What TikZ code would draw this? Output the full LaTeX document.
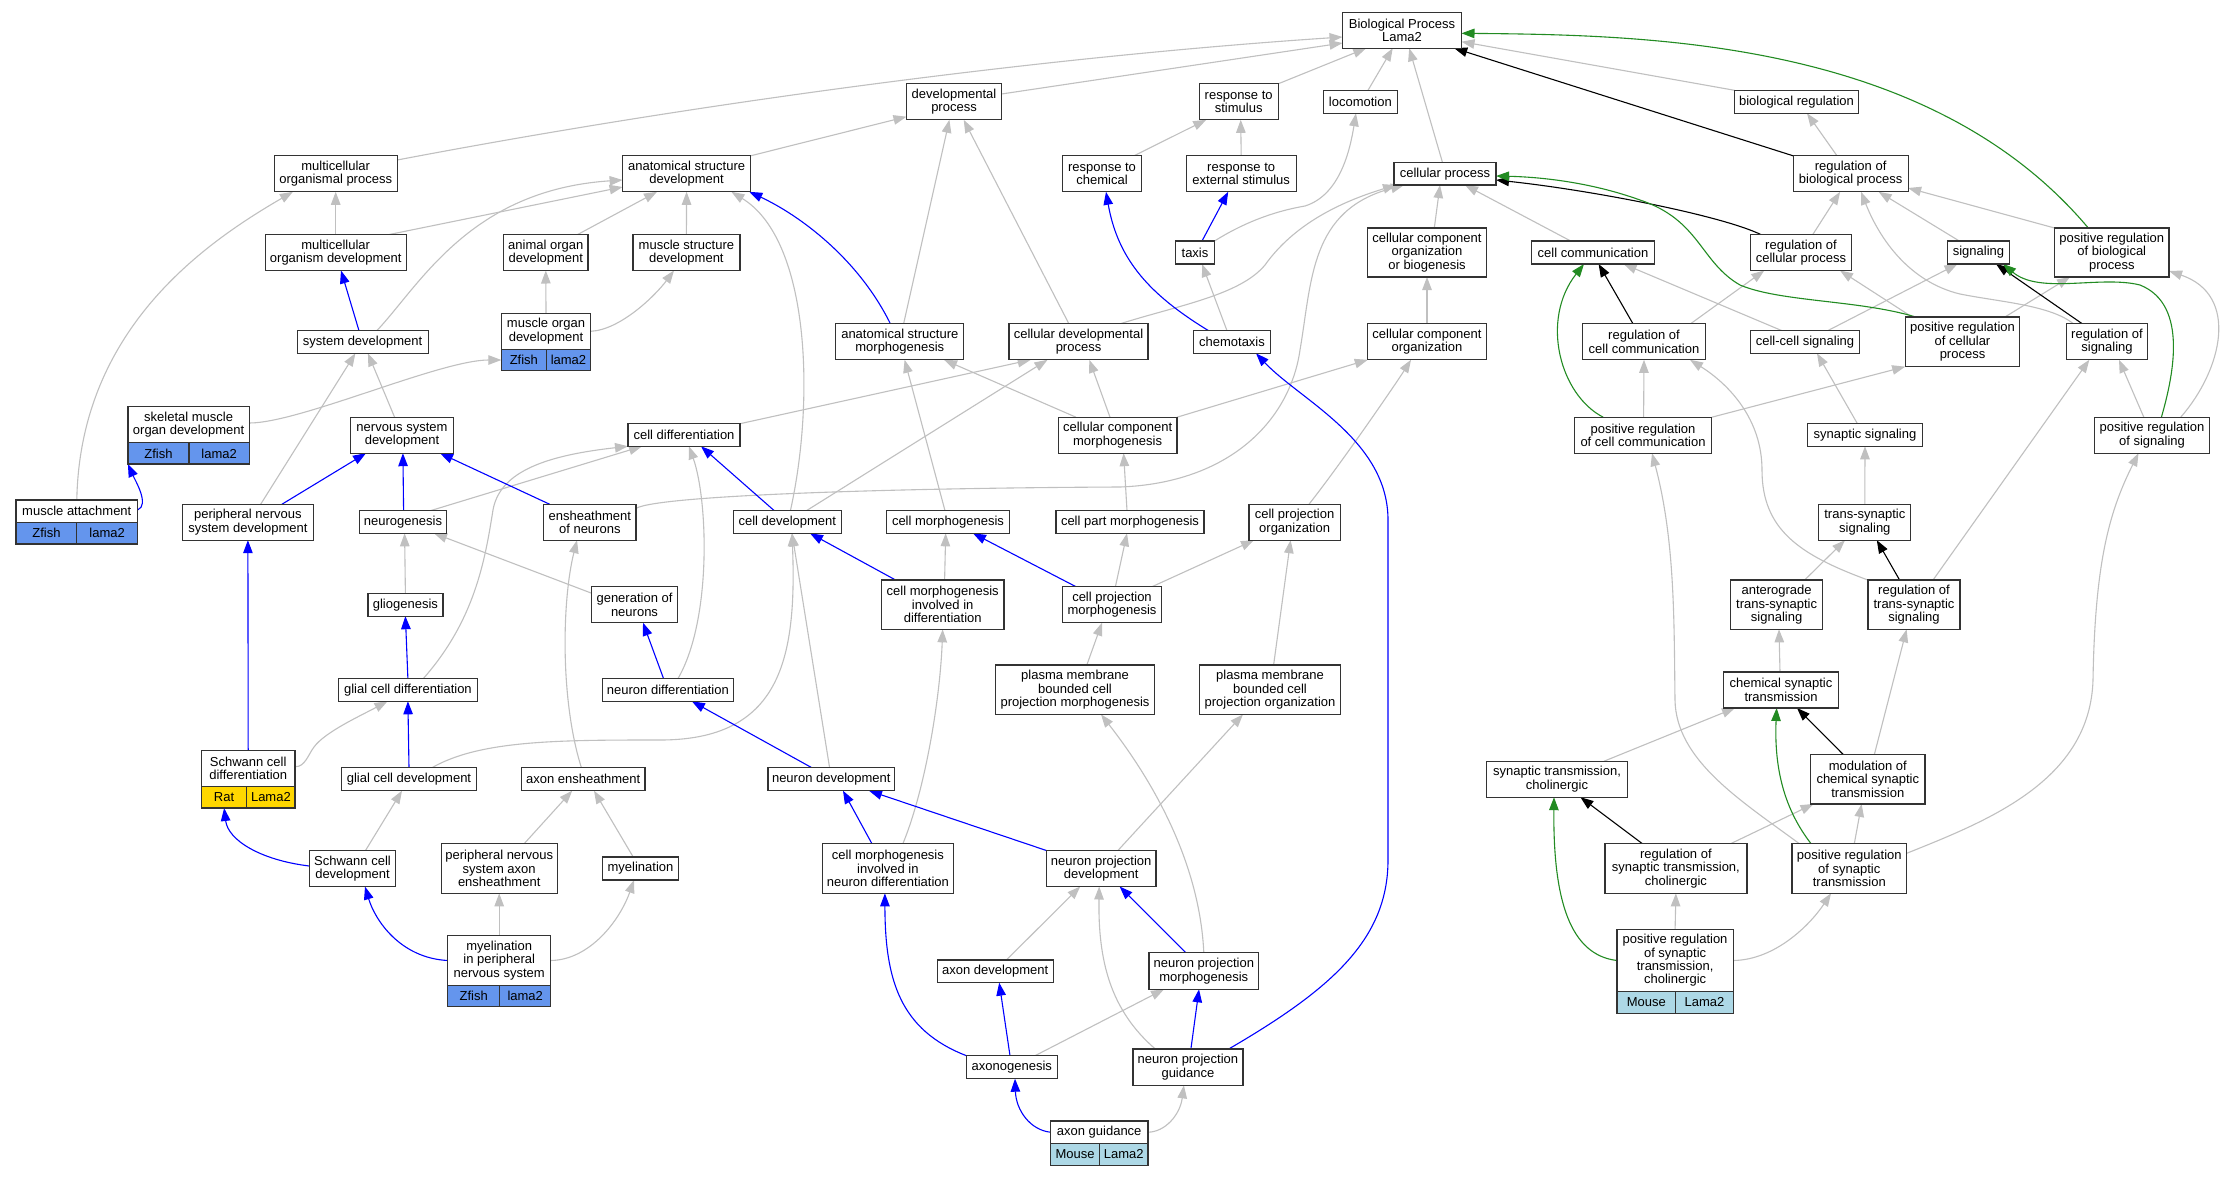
\documentclass[tikz,border=0pt]{standalone}
\usepackage{fontspec}
\setmainfont{Liberation Sans}
\usetikzlibrary{arrows.meta}
\pgfdeclarelayer{bg}
\pgfsetlayers{bg,main}
\definecolor{eg}{RGB}{192,192,192}
\definecolor{eb}{RGB}{0,0,255}
\definecolor{egr}{RGB}{34,139,34}
\definecolor{bd}{RGB}{51,51,51}
\definecolor{zf}{RGB}{100,149,237}
\definecolor{rt}{RGB}{255,215,0}
\definecolor{ms}{RGB}{173,216,230}
\newcommand{\nodefont}{\fontsize{13}{13.4}\selectfont}
\tikzset{
  wh/.style 2 args={minimum width=#1pt, minimum height=#2pt},
  box/.style={draw=bd, fill=white, line width=1.2pt, inner sep=0pt, outer sep=0pt, align=center, font=\nodefont},
  cell/.style={draw=bd, line width=1.2pt, inner sep=0pt, outer sep=0pt, font=\nodefont},
  ar/.style={line width=1.1pt, -{Triangle[length=13pt,width=9.5pt]}},
  isa/.style={ar, eg},
  po/.style={ar, eb},
  rg/.style={ar, black},
  pr/.style={ar, egr}
}
\begin{document}
\begin{tikzpicture}[x=1pt,y=-1pt]
\useasboundingbox (0,0) rectangle (2231,1176);
% ---------- nodes ----------
\node[box,wh={119}{36}] (bp) at (1402,30.2) {Biological Process\\Lama2};
\node[box,wh={95}{36}] (devp) at (954,101.8) {developmental\\process};
\node[box,wh={79}{36}] (rstim) at (1238.7,101.8) {response to\\stimulus};
\node[box,wh={73.5}{23}] (loco) at (1360.4,101.8) {locomotion};
\node[box,wh={124}{23}] (breg) at (1796.5,101.8) {biological regulation};
\node[box,wh={123}{36}] (mop) at (335.7,173.8) {multicellular\\organismal process};
\node[box,wh={128}{36}] (asd) at (686.6,173.8) {anatomical structure\\development};
\node[box,wh={79}{36}] (rchem) at (1102,173.8) {response to\\chemical};
\node[box,wh={110}{36}] (rext) at (1241.2,173.8) {response to\\external stimulus};
\node[box,wh={102}{22.5}] (cproc) at (1445,173.8) {cellular process};
\node[box,wh={115}{36}] (rbp) at (1850.6,173.8) {regulation of\\biological process};
\node[box,wh={141}{36}] (mod) at (335.7,252.5) {multicellular\\organism development};
\node[box,wh={84.5}{36}] (aod) at (545.8,252.5) {animal organ\\development};
\node[box,wh={107}{36}] (msd) at (686.4,252.5) {muscle structure\\development};
\node[box,wh={39}{23}] (taxis) at (1195,252.5) {taxis};
\node[box,wh={118.5}{49}] (ccob) at (1427,252.5) {cellular component\\organization\\or biogenesis};
\node[box,wh={123}{23}] (ccom) at (1593,252.5) {cell communication};
\node[box,wh={101.5}{36}] (rcp) at (1801,252.5) {regulation of\\cellular process};
\node[box,wh={61.5}{23}] (sig) at (1978.5,252.5) {signaling};
\node[box,wh={114.5}{49}] (prbp) at (2111.8,252.5) {positive regulation\\of biological\\process};
\node[box,wh={131}{22.6}] (sysd) at (362.6,342) {system development};
\node[box,wh={89.3}{36}] (muod) at (546,331.3) {muscle organ\\development};
\node[cell,fill=zf,wh={45}{21.4},anchor=north west] (muodZ) at (muod.south west) {Zfish};
\node[cell,fill=zf,wh={44.3}{21.4},anchor=north east] (muodL) at (muod.south east) {lama2};
\node[box,wh={128}{36}] (asm) at (899.8,341.8) {anatomical structure\\morphogenesis};
\node[box,wh={139}{36}] (cdp) at (1078.5,341.8) {cellular developmental\\process};
\node[box,wh={77.5}{22.6}] (chemo) at (1232,342) {chemotaxis};
\node[box,wh={118.5}{36}] (cco) at (1427,341.8) {cellular component\\organization};
\node[box,wh={123}{36}] (rcc) at (1644,341.8) {regulation of\\cell communication};
\node[box,wh={109.6}{22.6}] (ccs) at (1805,342) {cell-cell signaling};
\node[box,wh={114.6}{49.7}] (prcp) at (1962.5,341.8) {positive regulation\\of cellular\\process};
\node[box,wh={81.5}{36}] (ros) at (2107,341.8) {regulation of\\signaling};
\node[box,wh={121.4}{36}] (smod) at (188.6,424.7) {skeletal muscle\\organ development};
\node[cell,fill=zf,wh={61}{21.3},anchor=north west] (smodZ) at (smod.south west) {Zfish};
\node[cell,fill=zf,wh={60.4}{21.3},anchor=north east] (smodL) at (smod.south east) {lama2};
\node[box,wh={102.5}{36}] (nsd) at (402,435.2) {nervous system\\development};
\node[box,wh={112}{22.6}] (cdiff) at (684,435) {cell differentiation};
\node[box,wh={118.8}{36}] (ccm) at (1117.6,435.2) {cellular component\\morphogenesis};
\node[box,wh={137.7}{36}] (prcc) at (1643,435.2) {positive regulation\\of cell communication};
\node[box,wh={115}{22.6}] (synsig) at (1865,435) {synaptic signaling};
\node[box,wh={114.6}{36}] (pros) at (2152,435.2) {positive regulation\\of signaling};
\node[box,wh={121.5}{22.7}] (matt) at (76.8,511.3) {muscle attachment};
\node[cell,fill=zf,wh={60.8}{21.3},anchor=north west] (mattZ) at (matt.south west) {Zfish};
\node[cell,fill=zf,wh={60.7}{21.3},anchor=north east] (mattL) at (matt.south east) {lama2};
\node[box,wh={130.7}{36}] (pnsd) at (247.9,522.2) {peripheral nervous\\system development};
\node[box,wh={86.8}{22.6}] (neurog) at (403,522) {neurogenesis};
\node[box,wh={92.5}{36}] (eon) at (589.8,522.2) {ensheathment\\of neurons};
\node[box,wh={108}{22.6}] (cdev) at (787.3,522) {cell development};
\node[box,wh={123}{22.6}] (cmorph) at (948,522) {cell morphogenesis};
\node[box,wh={148}{22.6}] (cpm) at (1130,522) {cell part morphogenesis};
\node[box,wh={91.4}{36}] (cpo) at (1294.6,522.2) {cell projection\\organization};
\node[box,wh={92}{36}] (tss) at (1864.8,522.2) {trans-synaptic\\signaling};
\node[box,wh={75}{23}] (glio) at (405.4,604.7) {gliogenesis};
\node[box,wh={85.3}{36}] (gon) at (634.5,604.7) {generation of\\neurons};
\node[box,wh={122.5}{49.3}] (cmid) at (942.7,604.7) {cell morphogenesis\\involved in\\differentiation};
\node[box,wh={99}{36}] (cprm) at (1112,604.7) {cell projection\\morphogenesis};
\node[box,wh={92}{49.3}] (ats) at (1776.6,604.7) {anterograde\\trans-synaptic\\signaling};
\node[box,wh={92}{49.3}] (rts) at (1914,604.7) {regulation of\\trans-synaptic\\signaling};
\node[box,wh={138.6}{22.6}] (gcd) at (407.9,690) {glial cell differentiation};
\node[box,wh={130.7}{22.6}] (ndiff) at (667.9,690) {neuron differentiation};
\node[box,wh={159}{49.3}] (pmcpm) at (1075,689.7) {plasma membrane\\bounded cell\\projection morphogenesis};
\node[box,wh={140.8}{49.3}] (pmcpo) at (1270,689.7) {plasma membrane\\bounded cell\\projection organization};
\node[box,wh={115}{36}] (cst) at (1781,690) {chemical synaptic\\transmission};
\node[box,wh={93.6}{36.4}] (scd) at (248.2,768.5) {Schwann cell\\differentiation};
\node[cell,fill=rt,wh={45.4}{21.3},anchor=north west] (scdR) at (scd.south west) {Rat};
\node[cell,fill=rt,wh={48.2}{21.3},anchor=north east] (scdL) at (scd.south east) {Lama2};
\node[box,wh={135}{23}] (gcdev) at (409,779.2) {glial cell development};
\node[box,wh={123.6}{23}] (axe) at (583.2,779.2) {axon ensheathment};
\node[box,wh={126.8}{23}] (ndev) at (831.3,779.2) {neuron development};
\node[box,wh={141.4}{36}] (stc) at (1557,779.2) {synaptic transmission,\\cholinergic};
\node[box,wh={114.5}{49.3}] (mcst) at (1867.8,779.3) {modulation of\\chemical synaptic\\transmission};
\node[box,wh={86.5}{36}] (scdv) at (352.5,868.5) {Schwann cell\\development};
\node[box,wh={116}{49.7}] (pnsae) at (499.2,868.5) {peripheral nervous\\system axon\\ensheathment};
\node[box,wh={76}{23}] (myel) at (640.5,868.5) {myelination};
\node[box,wh={130.7}{49.7}] (cmind) at (887.9,868.5) {cell morphogenesis\\involved in\\neuron differentiation};
\node[box,wh={109.6}{36}] (npd) at (1101.2,868.5) {neuron projection\\development};
\node[box,wh={142}{49.7}] (rstc) at (1675.9,868.5) {regulation of\\synaptic transmission,\\cholinergic};
\node[box,wh={114.6}{49.7}] (prst) at (1849.3,868.5) {positive regulation\\of synaptic\\transmission};
\node[box,wh={103}{49.6}] (mpns) at (499.2,960.5) {myelination\\in peripheral\\nervous system};
\node[cell,fill=zf,wh={52.1}{21.4},anchor=north west] (mpnsZ) at (mpns.south west) {Zfish};
\node[cell,fill=zf,wh={50.9}{21.4},anchor=north east] (mpnsL) at (mpns.south east) {lama2};
\node[box,wh={116}{22.7}] (axd) at (995.2,971.3) {axon development};
\node[box,wh={109.7}{36.6}] (npm) at (1203.8,971) {neuron projection\\morphogenesis};
\node[box,wh={116.2}{62.4}] (prstc) at (1675.1,960.5) {positive regulation\\of synaptic\\transmission,\\cholinergic};
\node[cell,fill=ms,wh={58.7}{21.6},anchor=north west] (prstcM) at (prstc.south west) {Mouse};
\node[cell,fill=ms,wh={57.5}{21.6},anchor=north east] (prstcL) at (prstc.south east) {Lama2};
\node[box,wh={90.7}{23}] (axg) at (1011.8,1067.2) {axonogenesis};
\node[box,wh={110}{36.3}] (npg) at (1187.9,1067.2) {neuron projection\\guidance};
\node[box,wh={97.5}{22.3}] (ag) at (1099.2,1132.2) {axon guidance};
\node[cell,fill=ms,wh={49.2}{22},anchor=north west] (agM) at (ag.south west) {Mouse};
\node[cell,fill=ms,wh={48.3}{22},anchor=north east] (agL) at (ag.south east) {Lama2};
% ---------- edges ----------
\begin{pgfonlayer}{bg}
\fill[white] (0,0) rectangle (2231,1176);
% is_a (grey)
\draw[isa] ([yshift=13.8pt]mop.east) .. controls (697,103) and (1042,57) .. ([yshift=-6.8pt]bp.west);
\draw[isa] ([yshift=7.8pt]devp.east) -- ([yshift=-12.8pt]bp.west);
\draw[isa] (rstim.north east) -- ([xshift=-35.8pt]bp.south);
\draw[isa] ([xshift=7.6pt]loco.north) -- ([xshift=-9.3pt]bp.south);
\draw[isa] ([xshift=-2.5pt]cproc.north) -- ([xshift=7.2pt]bp.south);
\draw[isa] (breg.north west) -- ([yshift=-11.5pt]bp.east);
\draw[isa] (asd.north east) -- ([yshift=-14.9pt]devp.west);
\draw[isa] ([xshift=3.8pt]asm.north) -- ([xshift=-4.6pt]devp.south);
\draw[isa] ([xshift=-9.6pt]cdp.north) -- ([xshift=9.7pt]devp.south);
\draw[isa] (mod.north) -- (mop.south);
\draw[isa] (matt.north) .. controls (80,330) and (203,244) .. ([xshift=-42.8pt]mop.south);
\draw[isa] ([xshift=53.6pt]mod.north) -- ([yshift=-13.2pt]asd.west);
\draw[isa] ([xshift=14.2pt]sysd.north) .. controls (420,285) and (470,190) .. ([yshift=-6.2pt]asd.west);
\draw[isa] ([xshift=31.9pt]aod.north) -- ([xshift=-29.6pt]asd.south);
\draw[isa] (msd.north) -- (asd.south);
\draw[isa] ([xshift=3.1pt]cdev.north) .. controls (815,400) and (810,240) .. ([xshift=44.8pt]asd.south);
\draw[isa] (muod.north) -- (aod.south);
\draw[isa] (muod.east) .. controls (620,330) and (655,296) .. ([xshift=-12.4pt]msd.south);
\draw[isa] ([xshift=12.8pt]pnsd.north) -- ([xshift=-7.2pt]sysd.south);
\draw[isa] ([xshift=-7.4pt]nsd.north) -- ([xshift=5.3pt]sysd.south);
\draw[isa] ([yshift=1.7pt]smod.east) .. controls (300,423) and (440,360) .. (muodZ.west);
\draw[isa] ([xshift=27.4pt]neurog.north) -- ([xshift=-42pt]cdiff.south);
\draw[isa] ([xshift=15.3pt]gcd.north) .. controls (475,620) and (485,560) .. (493,510) .. controls (500,470) and (550,455) .. (cdiff.south west);
\draw[isa] (glio.north) -- ([xshift=1.6pt]neurog.south);
\draw[isa] ([yshift=11.4pt]gon.west) -- ([xshift=31pt]neurog.south);
\draw[isa] ([yshift=1.8pt]scd.east) .. controls (305,767) and (308,755) .. (314,747) .. controls (325,732) and (360,716) .. ([xshift=-20.4pt]gcd.south);
\draw[isa] ([xshift=-1.8pt]axe.north) .. controls (560,700) and (562,600) .. ([xshift=-12.8pt]eon.south);
\draw[isa] ([yshift=13.9pt]eon.east) .. controls (660,495) and (900,488) .. (1120,487) .. controls (1230,483) and (1290,420) .. (1300,350) .. controls (1312,280) and (1310,210) .. ([xshift=10pt]cproc.south west);
\draw[isa] ([xshift=41.5pt]cdp.north) .. controls (1180,305) and (1240,295) .. (1265,265) .. controls (1290,230) and (1330,205) .. ([xshift=2pt]cproc.south west);
\draw[isa] (cdiff.north east) -- ([xshift=-47.8pt]cdp.south);
\draw[isa] ([xshift=19.1pt]cdev.north) -- ([xshift=-31pt]cdp.south);
\draw[isa] ([xshift=-7.6pt]ccm.north) -- ([xshift=10.8pt]cdp.south);
\draw[isa] ([xshift=-3pt]cmorph.north) -- ([xshift=4.8pt]asm.south);
\draw[isa] ([xshift=-41.6pt]ccm.north) -- ([xshift=44.2pt]asm.south);
\draw[isa] (ccm.north east) -- (cco.south west);
\draw[isa] ([xshift=-3pt]cpm.north) -- ([xshift=6pt]ccm.south);
\draw[isa] (cco.north) -- (ccob.south);
\draw[isa] ([xshift=14.4pt]cpo.north) .. controls (1340,465) and (1395,385) .. ([xshift=-16pt]cco.south);
\draw[isa] ([xshift=7.3pt]ccob.north) -- ([xshift=-5pt]cproc.south);
\draw[isa] ([xshift=-22.3pt]ccom.north) -- ([xshift=20pt]cproc.south);
\draw[isa] ([xshift=-13.6pt]rbp.north) -- ([xshift=10.5pt]breg.south);
\draw[isa] ([xshift=11.8pt]rcp.north) -- ([xshift=-10.5pt]rbp.south);
\draw[isa] ([xshift=-19.2pt]sig.north) -- ([xshift=28pt]rbp.south);
\draw[isa] ([xshift=-33.5pt]ros.north) .. controls (2050,305) and (2000,302) .. (1960,294) .. controls (1910,282) and (1880,240) .. ([xshift=10.4pt]rbp.south);
\draw[isa] (prbp.north west) -- ([yshift=-14.2pt]rbp.east);
\draw[isa] ([xshift=-15pt]rcc.north east) -- ([xshift=-36.7pt]rcp.south);
\draw[isa] ([xshift=-23pt]ccs.north) -- ([xshift=30.6pt]ccom.south);
\draw[isa] ([xshift=22.6pt]ccs.north) -- ([xshift=-21pt]sig.south);
\draw[isa] ([xshift=-50.5pt]prcp.north) -- ([xshift=39pt]rcp.south);
\draw[isa] ([xshift=42.5pt]prcp.north) -- ([xshift=-41.8pt]prbp.south);
\draw[isa] ([xshift=28.7pt]pros.north) .. controls (2222,370) and (2240,295) .. ([yshift=-18.5pt]prbp.east);
\draw[isa] ([xshift=-8.2pt]pros.north) -- ([xshift=12pt]ros.south);
\draw[isa] ([xshift=19pt]rts.north) -- ([xshift=-17.7pt]ros.south);
\draw[isa] (rts.north west) .. controls (1800,555) and (1762,530) .. (1762,470) .. controls (1762,420) and (1730,385) .. ([xshift=46pt]rcc.south);
\draw[isa] ([xshift=-7.6pt]synsig.north) -- ([xshift=12pt]ccs.south);
\draw[isa] (tss.north) -- (synsig.south);
\draw[isa] ([xshift=0.6pt]prcc.north) -- (rcc.south);
\draw[isa] (prcc.north east) -- (prcp.south west);
\draw[isa] ([xshift=28pt]ats.north) -- ([xshift=-19.8pt]tss.south);
\draw[isa] ([xshift=-1pt]cst.north) -- ([xshift=2.4pt]ats.south);
\draw[isa] ([xshift=47pt]stc.north) -- ([xshift=-46pt]cst.south);
\draw[isa] ([xshift=6.5pt]mcst.north) -- ([xshift=-7.4pt]rts.south);
\draw[isa] ([xshift=54.8pt]rstc.north) -- ([xshift=3pt]mcst.south west);
\draw[isa] ([xshift=5pt]prst.north) -- ([xshift=-6.2pt]mcst.south);
\draw[isa] ([xshift=-50pt]prst.north) .. controls (1740,800) and (1676,760) .. (1675,700) .. controls (1674,620) and (1675,540) .. ([xshift=9pt]prcc.south);
\draw[isa] ([yshift=15.2pt]prst.east) .. controls (1990,820) and (2090,780) .. (2093,680) .. controls (2095,560) and (2110,510) .. ([xshift=-13.5pt]pros.south);
\draw[isa] (prstc.north) -- (rstc.south);
\draw[isa] (prstc.east) .. controls (1775,960) and (1810,925) .. ([xshift=-18.3pt]prst.south);
\draw[isa] ([xshift=10pt]ndiff.north) .. controls (712,620) and (708,500) .. ([xshift=5pt]cdiff.south);
\draw[isa] ([xshift=23pt]gcdev.north) .. controls (480,740) and (560,740) .. (660,740) .. controls (780,740) and (797,660) .. ([xshift=4.7pt]cdev.south);
\draw[isa] ([xshift=-1.7pt]ndev.north) -- ([xshift=4.7pt]cdev.south);
\draw[isa] ([xshift=1.9pt]cmid.north) -- ([xshift=-2.3pt]cmorph.south);
\draw[isa] ([xshift=3.4pt]cprm.north) -- ([xshift=-3pt]cpm.south);
\draw[isa] ([xshift=40pt]cprm.north) -- ([xshift=-40.6pt]cpo.south);
\draw[isa] ([xshift=11.8pt]pmcpm.north) -- ([xshift=-10pt]cprm.south);
\draw[isa] ([xshift=3.6pt]pmcpo.north) -- ([xshift=-4pt]cpo.south);
\draw[isa] ([xshift=15pt]cmind.north) .. controls (925,790) and (940,700) .. (cmid.south);
\draw[isa] ([xshift=11.2pt]axd.north) -- ([xshift=-21pt]npd.south);
\draw[isa] ([xshift=-32.5pt]npg.north) .. controls (1110,1010) and (1098,960) .. ([xshift=-2pt]npd.south);
\draw[isa] ([xshift=23.2pt]axg.north) -- ([xshift=-39.8pt]npm.south);
\draw[isa] (npm.north) .. controls (1200,870) and (1160,790) .. ([xshift=26pt]pmcpm.south);
\draw[isa] ([xshift=16.7pt]npd.north) -- ([xshift=-27pt]pmcpo.south);
\draw[isa] (ag.east) .. controls (1165,1132) and (1180,1115) .. ([xshift=-4pt]npg.south);
\draw[isa] ([xshift=-5pt]chemo.north) -- ([xshift=7pt]taxis.south);
\draw[isa] (taxis.north east) .. controls (1240,225) and (1270,212) .. (1305,206) .. controls (1340,195) and (1350,150) .. ([xshift=-4.4pt]loco.south);
\draw[isa] (rext.north) -- ([xshift=2pt]rstim.south);
\draw[isa] ([xshift=32pt]rchem.north) -- ([xshift=7pt]rstim.south west);
\draw[isa] ([xshift=13pt]scdv.north) -- ([xshift=-7pt]gcdev.south);
\draw[isa] (mpns.north) -- (pnsae.south);
\draw[isa] (mpns.east) .. controls (590,960) and (620,920) .. ([xshift=-6.5pt]myel.south);
\draw[isa] ([xshift=25pt]pnsae.north) -- ([xshift=-11pt]axe.south);
\draw[isa] ([xshift=-7.3pt]myel.north) -- ([xshift=10.8pt]axe.south);
% part_of (blue)
\draw[po] ([xshift=-9.4pt]asm.north) .. controls (858,258) and (799,215) .. ([xshift=62.7pt]asd.south);
\draw[po] ([xshift=-3.6pt]sysd.north) -- ([xshift=5.3pt]mod.south);
\draw[po] ([yshift=1.3pt]matt.east) .. controls (150,505) and (135,480) .. (smodZ.south west);
\draw[po] ([xshift=34.1pt]pnsd.north) -- ([xshift=-36pt]nsd.south);
\draw[po] ([xshift=0.6pt]neurog.north) -- ([xshift=0.9pt]nsd.south);
\draw[po] ([xshift=6pt]eon.north west) -- ([xshift=38pt]nsd.south);
\draw[po] (scd.north) -- (pnsd.south);
\draw[po] (gcd.north) -- (glio.south);
\draw[po] (gcdev.north) -- (gcd.south);
\draw[po] ([xshift=-13pt]cdev.north) -- ([xshift=17pt]cdiff.south);
\draw[po] ([xshift=-47pt]cmid.north) -- ([xshift=22.7pt]cdev.south);
\draw[po] ([xshift=-36pt]cprm.north) -- ([xshift=25pt]cmorph.south);
\draw[po] ([xshift=-19.5pt]ndev.north) -- ([xshift=24pt]ndiff.south);
\draw[po] ([xshift=-4.3pt]ndiff.north) -- ([xshift=8.5pt]gon.south);
\draw[po] ([xshift=-16pt]cmind.north) -- ([xshift=11.7pt]ndev.south);
\draw[po] (npd.north west) -- ([xshift=37.7pt]ndev.south);
\draw[po] ([xshift=-18pt]npm.north) -- ([xshift=18.4pt]npd.south);
\draw[po] ([xshift=3pt]npg.north) -- ([xshift=-4.8pt]npm.south);
\draw[po] ([xshift=-1.8pt]axg.north) -- ([xshift=4pt]axd.south);
\draw[po] (axg.north west) .. controls (900,1030) and (885,980) .. ([xshift=-3pt]cmind.south);
\draw[po] (ag.west) .. controls (1030,1130) and (1016,1110) .. ([xshift=3.2pt]axg.south);
\draw[po] ([xshift=-23.4pt]chemo.north) .. controls (1150,295) and (1118,260) .. ([xshift=4pt]rchem.south);
\draw[po] ([xshift=40.7pt]npg.north) .. controls (1330,990) and (1388,940) .. (1388,860) -- (1388,520) .. controls (1388,440) and (1300,400) .. ([xshift=24pt]chemo.south);
\draw[po] ([xshift=7pt]taxis.north) -- ([xshift=-13pt]rext.south);
\draw[po] ([yshift=2.5pt]scdv.west) .. controls (260,860) and (228,840) .. (scdR.south);
\draw[po] (mpns.west) .. controls (400,958) and (375,920) .. ([xshift=12.5pt]scdv.south);
% regulates (black)
\draw[rg] (rbp.north west) -- ([xshift=52.2pt]bp.south);
\draw[rg] ([xshift=-40.2pt]rcp.north) .. controls (1720,215) and (1590,190) .. ([yshift=-6.2pt]cproc.east);
\draw[rg] ([xshift=-11pt]rcc.north) -- ([xshift=5.6pt]ccom.south);
\draw[rg] ([xshift=-24.7pt]ros.north) -- ([xshift=17.5pt]sig.south);
\draw[rg] ([xshift=-14.4pt]rts.north) -- ([xshift=12pt]tss.south);
\draw[rg] ([xshift=-24.4pt]mcst.north) -- ([xshift=16pt]cst.south);
\draw[rg] ([xshift=-33.6pt]rstc.north) -- ([xshift=23.4pt]stc.south);
% positively regulates (green)
\draw[pr] ([xshift=-23.5pt]prbp.north) .. controls (1930,40) and (1650,35) .. ([yshift=-3.1pt]bp.east);
\draw[pr] ([xshift=-47pt]prcp.north) .. controls (1860,300) and (1780,302) .. (1740,285) .. controls (1700,262) and (1700,220) .. (1640,200) .. controls (1590,182) and (1540,177) .. ([yshift=-2.2pt]cproc.east);
\draw[pr] ([xshift=-39.8pt]prcc.north) .. controls (1560,395) and (1540,320) .. ([xshift=-9pt]ccom.south);
\draw[pr] ([xshift=9.4pt]pros.north) .. controls (2172,380) and (2190,305) .. (2140,285) .. controls (2100,275) and (2040,295) .. ([xshift=24.5pt]sig.south);
\draw[pr] ([xshift=-38.3pt]prst.north) .. controls (1785,810) and (1774,770) .. ([xshift=-4.4pt]cst.south);
\draw[pr] (prstc.west) .. controls (1570,955) and (1553,900) .. ([xshift=-3pt]stc.south);
\end{pgfonlayer}
\end{tikzpicture}
\end{document}
